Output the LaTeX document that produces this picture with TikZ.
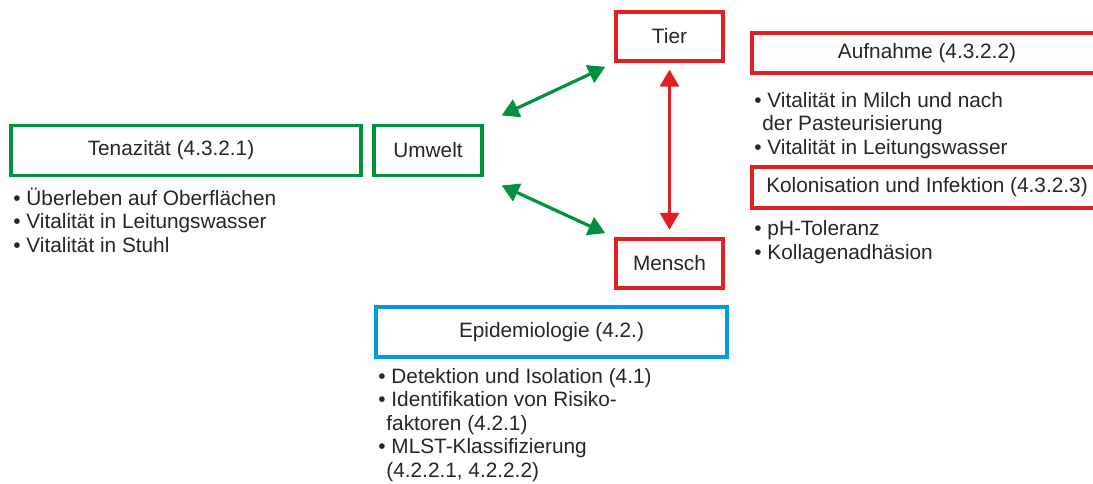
\documentclass[tikz,border=0pt]{standalone}
\usepackage{fontspec}
\setmainfont{Liberation Sans}
\usepackage{xcolor}
\usepackage{tikz}
\usetikzlibrary{arrows.meta, positioning}
\definecolor{umgreen}{RGB}{0,146,63}
\definecolor{umred}{RGB}{226,32,36}
\definecolor{umblue}{RGB}{0,155,222}

\begin{document}
\begin{tikzpicture}[x=0.5pt, y=-0.5pt,
            every node/.style={font=\fontsize{10.4}{11.7}\selectfont, text=black!85},
            box/.style={draw, line width=1.6pt, inner sep=0pt, minimum height=25pt},
            greenbox/.style={box, draw=umgreen},
            redbox/.style={box, draw=umred},
            bluebox/.style={box, draw=umblue},
            itemlist/.style={anchor=base west, align=left, inner sep=0pt},
            link/.style={<->, >={Triangle[length=8.5pt, width=9.5pt]}, line width=1.6pt},
        ]
        \useasboundingbox (0,0) rectangle (1093,483);
        \node (tenaz) at (186,150.5) [greenbox, minimum width=175pt] {Tenazität (4.3.2.1)\hspace*{15pt}};
        \node (umwelt) at (428,150.5) [greenbox, minimum width=54pt] {Umwelt};
        \node (tier) at (669.5,36.5) [redbox, minimum width=53.5pt, minimum height=24.5pt] {Tier};
        \node (mensch) at (669.5,263.5) [redbox, minimum width=53.5pt, minimum height=24.5pt] {Mensch};
        \node (aufn) at (927,53) [redbox, minimum width=175pt, minimum height=20pt] {Aufnahme (4.3.2.2)};
        \node (kolon) at (927,187.5) [redbox, minimum width=175pt, minimum height=20.5pt] {Kolonisation und Infektion (4.3.2.3)};
        \node (epid) at (551.5,332) [bluebox, minimum width=175.5pt] {Epidemiologie (4.2.)};
        % lists sit on the baseline of their last line
        \node (tenazlist) at (13,252) [itemlist] {• Überleben auf Oberflächen\\• Vitalität in Leitungswasser\\• Vitalität in Stuhl};
        \node (aufnlist) at (754,154) [itemlist] {• Vitalität in Milch und nach\\\hspace*{4pt}der Pasteurisierung\\• Vitalität in Leitungswasser};
        \node (kolonlist) at (754,259) [itemlist] {• pH-Toleranz\\• Kollagenadhäsion};
        \node (epidlist) at (378,477) [itemlist] {• Detektion und Isolation (4.1)\\• Identifikation von Risiko-\\\hspace*{4pt}faktoren (4.2.1)\\• MLST-Klassifizierung\\\hspace*{4pt}(4.2.2.1, 4.2.2.2)};
        \draw[link, umgreen, shorten <=10pt, shorten >=5pt] (umwelt.north east) -- (tier.south west);
        \draw[link, umgreen, shorten <=10pt, shorten >=5pt] (umwelt.south east) -- (mensch.north west);
        \draw[link, umred, shorten <=3.5pt, shorten >=3.8pt] (tier) -- (mensch);
        \end{tikzpicture}
\end{document}
